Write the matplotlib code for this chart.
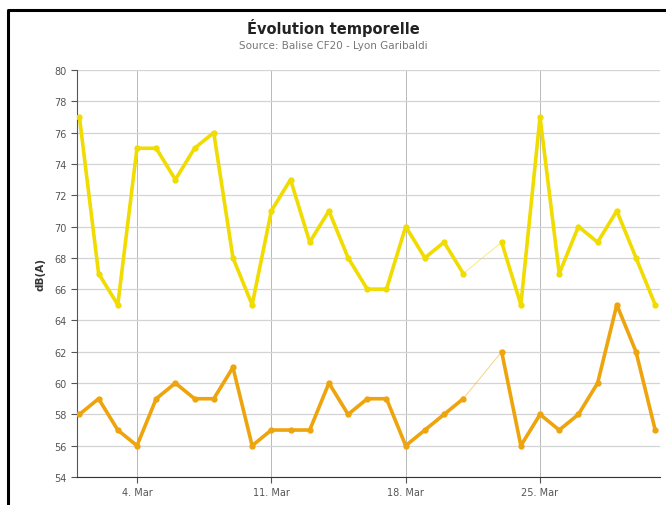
import matplotlib
matplotlib.use("Agg")
import matplotlib.pyplot as plt
import matplotlib.dates as mdates
import numpy as np
import pandas as pd

# daily values, March (NaN = missing day)
days = pd.date_range("2014-03-01", "2014-03-31", freq="D")
yellow = [77, 67, 65, 75, 75, 73, 75, 76, 68, 65, 71, 73, 69, 71, 68, 66, 66,
          70, 68, 69, 67, np.nan, 69, 65, 77, 67, 70, 69, 71, 68, 65]
orange = [58, 59, 57, 56, 59, 60, 59, 59, 61, 56, 57, 57, 57, 60, 58, 59, 59,
          56, 57, 58, 59, np.nan, 62, 56, 58, 57, 58, 60, 65, 62, 57]
tick_days = ["2014-03-04", "2014-03-11", "2014-03-18", "2014-03-25"]

col_y = "#f0dc00"
col_o = "#eea40c"

fig = plt.figure(figsize=(6.66, 5.06), dpi=100)
# black frame (only left and top edges are visible in the crop)
fig.lines.append(plt.Line2D([8 / 666, 8 / 666, 1.0], [0.0, 1 - 11 / 506, 1 - 11 / 506],
                            transform=fig.transFigure, color="black", lw=2.2))
ax = fig.add_axes([77 / 666, 1 - 478 / 506, 583 / 666, 407 / 506])

for vals, col in [(yellow, col_y), (orange, col_o)]:
    s = pd.Series(vals, index=days)
    # faint connector over the gap
    ok = s.dropna()
    ax.plot(ok.index, ok.values, color=col, lw=0.7, alpha=0.5, zorder=2)
    ax.plot(s.index, s.values, color=col, lw=2.6, marker="o", ms=3.5,
            solid_joinstyle="round", zorder=3)

ax.set_ylim(54, 80)
ax.set_yticks(range(54, 81, 2))
ax.set_xlim(days[0] - pd.Timedelta(hours=3), days[-1] + pd.Timedelta(hours=6))
ax.set_xticks(pd.to_datetime(tick_days))
ax.xaxis.set_major_formatter(plt.FuncFormatter(
    lambda v, p: "%d. %s" % (mdates.num2date(v).day, mdates.num2date(v).strftime("%b"))))

ax.grid(True, axis="y", color="#d4d4d4", lw=0.9)
ax.grid(True, axis="x", color="#b8b8b8", lw=0.7)
ax.set_axisbelow(True)
for sp in ["top", "right"]:
    ax.spines[sp].set_visible(False)
ax.spines["left"].set_color("#555555")
ax.spines["bottom"].set_color("#333333")
ax.tick_params(labelsize=7, colors="#555555", length=4)
ax.set_ylabel("dB(A)", fontsize=7.5, fontweight="bold", color="#333333", labelpad=6)

fig.text(0.5, 1 - 28 / 506, "Évolution temporelle", ha="center", va="center",
         fontsize=10.5, fontweight="bold", color="#222222")
fig.text(0.5, 1 - 46 / 506, "Source: Balise CF20 - Lyon Garibaldi", ha="center",
         va="center", fontsize=7.5, color="#777777")

fig.savefig("out.png", dpi=100)
